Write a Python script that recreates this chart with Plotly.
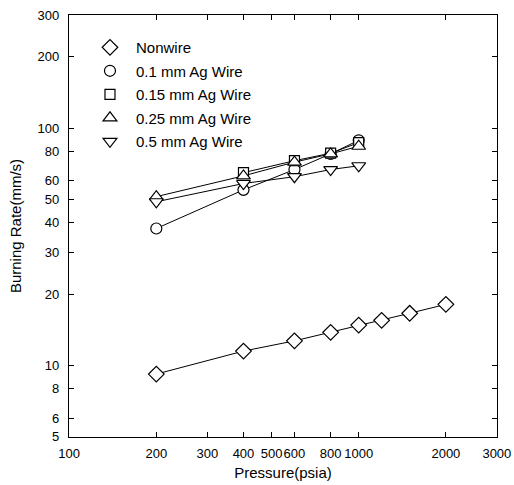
import math
import plotly.graph_objects as go

# ---- data ----
x_nonwire = [200, 400, 600, 800, 1000, 1200, 1500, 2000]
y_nonwire = [9.2, 11.5, 12.7, 13.8, 14.8, 15.5, 16.6, 18.1]

x_wire = [200, 400, 600, 800, 1000]
y_01 = [37.8, 55.0, 67.0, 78.0, 89.0]
y_015 = [None, 65.0, 73.0, 78.5, 87.0]
y_025 = [51.5, 63.0, 72.0, 78.0, 84.0]
y_05 = [49.0, 58.5, 62.5, 67.0, 69.5]

series_names = ["Nonwire", "0.1 mm Ag Wire", "0.15 mm Ag Wire",
                "0.25 mm Ag Wire", "0.5 mm Ag Wire"]
series_x = [x_nonwire, x_wire, x_wire, x_wire, x_wire]
series_y = [y_nonwire, y_01, y_015, y_025, y_05]
symbols = ["diamond", "circle", "square", "triangle-up", "triangle-down"]
sizes = [12, 11, 10, 12, 12]

x_tickvals = [100, 200, 300, 400, 500, 600, 800, 1000, 2000, 3000]
x_ticktext = ["100", "200", "300", "400", "500", "600", "800", "1000", "2000", "3000"]
y_tickvals = [5, 6, 8, 10, 20, 30, 40, 50, 60, 80, 100, 200, 300]
y_ticktext = [str(v) for v in y_tickvals]

FONT = "Liberation Sans, Arial, sans-serif"

fig = go.Figure()

# connecting lines (no legend)
for xs, ys in zip(series_x, series_y):
    fig.add_trace(go.Scatter(x=xs, y=ys, mode="lines", connectgaps=True,
                             line=dict(color="black", width=1),
                             showlegend=False, hoverinfo="skip"))

# markers (legend entries)
for i, (name, xs, ys, sym, sz) in enumerate(zip(series_names, series_x, series_y, symbols, sizes)):
    fig.add_trace(go.Scatter(
        x=xs, y=ys, mode="markers", name=name, legendgroup=f"g{i}",
        marker=dict(symbol=sym, size=sz, color="white",
                    line=dict(color="black", width=1.2)),
    ))

fig.update_layout(
    width=514, height=485,
    margin=dict(l=69, r=17, t=15, b=48, autoexpand=False),
    paper_bgcolor="white", plot_bgcolor="white",
    font=dict(family=FONT, color="black", size=13),
    legend=dict(x=0.035, y=0.962, xanchor="left", yanchor="top",
                bgcolor="rgba(0,0,0,0)", font=dict(size=15, family=FONT),
                tracegroupgap=1, itemwidth=42, traceorder="grouped"),
)

fig.update_xaxes(
    type="log", range=[math.log10(100) - 0.0005, math.log10(3000) + 0.0005],
    tickvals=x_tickvals, ticktext=x_ticktext, tickangle=0, automargin=False,
    ticks="inside", ticklen=5, tickcolor="black",
    showline=True, linecolor="black", linewidth=1.3, mirror="ticks",
    showgrid=False, zeroline=False, tickfont=dict(size=13),
    title=dict(text="Pressure(psia)", font=dict(size=15), standoff=7),
    ticklabelstandoff=4,
)
fig.update_yaxes(
    type="log", range=[math.log10(5) - 0.0005, math.log10(300) + 0.0005],
    tickvals=y_tickvals, ticktext=y_ticktext, automargin=False,
    ticks="inside", ticklen=5, tickcolor="black",
    showline=True, linecolor="black", linewidth=1.3, mirror="ticks",
    showgrid=False, zeroline=False, tickfont=dict(size=13),
    title=dict(text="Burning Rate(mm/s)", font=dict(size=15), standoff=12),
    ticklabelstandoff=6,
)

fig.write_html("out.html", config={"displayModeBar": False},
               post_script="document.body.style.margin='0px';document.body.style.overflow='hidden';")
